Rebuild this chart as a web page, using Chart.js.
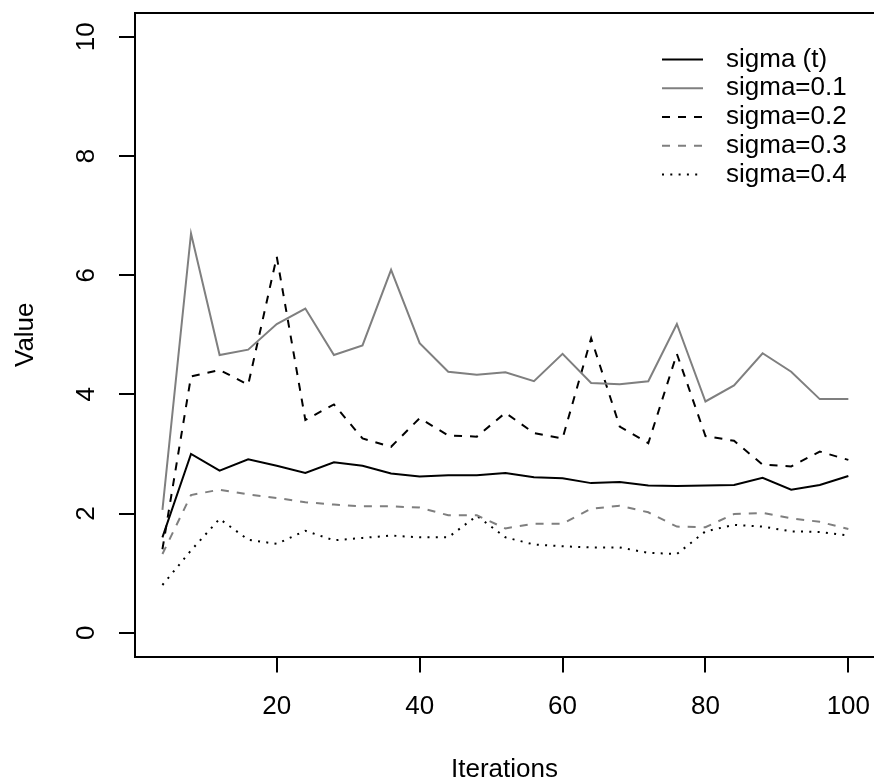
<!DOCTYPE html>
<html>
<head>
<meta charset="utf-8">
<script src="https://cdn.jsdelivr.net/npm/chart.js@4.4.1/dist/chart.umd.min.js"></script>
<style>
  html, body { margin: 0; padding: 0; background: #fff; overflow: hidden; }
  canvas { display: block; }
</style>
</head>
<body>
<canvas id="chart" width="874" height="783"></canvas>
<script>
// ── Данные ──────────────────────────────────────────────
const iterations = [4, 8, 12, 16, 20, 24, 28, 32, 36, 40, 44, 48, 52,
                    56, 60, 64, 68, 72, 76, 80, 84, 88, 92, 96, 100];

const sigmaT  = [1.60, 3.00, 2.72, 2.91, 2.80, 2.68, 2.86, 2.80, 2.67, 2.62, 2.64, 2.64, 2.68,
                 2.61, 2.59, 2.51, 2.53, 2.47, 2.46, 2.47, 2.48, 2.60, 2.40, 2.48, 2.63];
const sigma01 = [2.06, 6.70, 4.66, 4.75, 5.18, 5.44, 4.66, 4.82, 6.09, 4.86, 4.38, 4.33, 4.37,
                 4.22, 4.68, 4.19, 4.17, 4.22, 5.18, 3.88, 4.15, 4.69, 4.38, 3.92, 3.92];
const sigma02 = [1.40, 4.30, 4.41, 4.16, 6.31, 3.57, 3.83, 3.26, 3.12, 3.60, 3.31, 3.29, 3.69,
                 3.35, 3.26, 4.94, 3.46, 3.18, 4.68, 3.30, 3.22, 2.82, 2.79, 3.04, 2.90];
const sigma03 = [1.32, 2.31, 2.40, 2.32, 2.26, 2.19, 2.15, 2.12, 2.12, 2.10, 1.97, 1.97, 1.75,
                 1.83, 1.83, 2.08, 2.13, 2.02, 1.78, 1.77, 1.99, 2.01, 1.92, 1.86, 1.74];
const sigma04 = [0.80, 1.38, 1.91, 1.56, 1.49, 1.71, 1.55, 1.59, 1.63, 1.60, 1.60, 1.96, 1.60,
                 1.48, 1.45, 1.43, 1.43, 1.34, 1.32, 1.70, 1.81, 1.78, 1.70, 1.69, 1.63];

const seriesLabels = ['sigma (t)', 'sigma=0.1', 'sigma=0.2', 'sigma=0.3', 'sigma=0.4'];
const xTicks = [20, 40, 60, 80, 100];
const yTicks = [0, 2, 4, 6, 8, 10];
const xTitle = 'Iterations';
const yTitle = 'Value';

// ── Стиль ───────────────────────────────────────────────
const FONT  = "'Liberation Sans', Arial, Helvetica, sans-serif";
const FSIZE = 26;
const GREY  = '#7f7f7f';
const LW    = 2;

function series(label, values, color, dash) {
  return {
    label,
    data: iterations.map((x, i) => ({ x, y: values[i] })),
    borderColor: color,
    borderWidth: LW,
    borderDash: dash,
    borderCapStyle: 'butt',
    pointRadius: 0,
    tension: 0,
    fill: false,
  };
}

// Рамка сверху, подписи оси Y (повернуты, как в R) и легенда
const rDecor = {
  id: 'rDecor',
  afterDraw(chart) {
    const { ctx, chartArea: { left, top, right, bottom } } = chart;
    const ys = chart.scales.y;
    ctx.save();
    ctx.strokeStyle = '#000';
    ctx.lineWidth = LW;
    ctx.beginPath();
    ctx.moveTo(left, bottom);
    ctx.lineTo(left, top);
    ctx.lineTo(right + 4, top);
    ctx.stroke();

    // подписи Y
    ctx.fillStyle = '#000';
    ctx.font = `${FSIZE}px ${FONT}`;
    ctx.textAlign = 'center';
    ctx.textBaseline = 'middle';
    ys.ticks.forEach(t => {
      const py = ys.getPixelForValue(t.value);
      ctx.save();
      ctx.translate(86.5, py);
      ctx.rotate(-Math.PI / 2);
      ctx.fillText(String(t.value), 0, 0);
      ctx.restore();
    });

    // легенда
    const lx0 = 662, lx1 = 703, tx = 726, y0 = 59.5, dy = 28.75;
    ctx.textAlign = 'left';
    chart.data.datasets.forEach((ds, i) => {
      const yy = y0 + i * dy;
      ctx.strokeStyle = ds.borderColor;
      ctx.lineWidth = LW;
      ctx.setLineDash(ds.borderDash || []);
      ctx.beginPath();
      ctx.moveTo(lx0, yy);
      ctx.lineTo(lx1, yy);
      ctx.stroke();
      ctx.setLineDash([]);
      ctx.fillStyle = '#000';
      ctx.fillText(ds.label, tx, yy);
    });
    ctx.restore();
  },
};

new Chart(document.getElementById('chart'), {
  type: 'line',
  data: {
    datasets: [
      series(seriesLabels[0], sigmaT,  '#000', []),
      series(seriesLabels[1], sigma01, GREY,   []),
      series(seriesLabels[2], sigma02, '#000', [8, 8]),
      series(seriesLabels[3], sigma03, GREY,   [8, 8]),
      series(seriesLabels[4], sigma04, '#000', [2, 6.3]),
    ],
  },
  options: {
    responsive: false,
    devicePixelRatio: 1,
    animation: false,
    layout: { padding: { top: 13, left: 0, right: 0, bottom: 0 } },
    plugins: {
      legend:  { display: false },
      tooltip: { enabled: false },
    },
    scales: {
      x: {
        type: 'linear',
        min: 0.16,
        max: 103.59,
        afterBuildTicks: s => { s.ticks = xTicks.map(v => ({ value: v })); },
        // фиксированная высота оси и без авто-отступов под подписи
        afterFit: s => { s.height = 126.5; s.paddingLeft = 0; s.paddingRight = 0; },
        grid:   { drawOnChartArea: false, tickLength: 16, color: '#000', lineWidth: LW },
        border: { display: true, color: '#000', width: LW },
        ticks:  {
          color: '#000', padding: 19, autoSkip: false, maxRotation: 0,
          font: { family: FONT, size: FSIZE, lineHeight: 1.2 },
        },
        title: {
          display: true, text: xTitle, color: '#000',
          font: { family: FONT, size: FSIZE, lineHeight: 1 },
          padding: { top: 0, bottom: 0 },
        },
      },
      y: {
        type: 'linear',
        min: -0.4,
        max: 10.4,
        afterBuildTicks: s => { s.ticks = yTicks.map(v => ({ value: v })); },
        afterFit: s => { s.width = 135; s.paddingTop = 0; s.paddingBottom = 0; },
        grid:   { drawOnChartArea: false, tickLength: 16, color: '#000', lineWidth: LW },
        border: { display: true, color: '#000', width: LW },
        ticks:  { display: false },
        title: {
          display: true, text: yTitle, color: '#000',
          font: { family: FONT, size: FSIZE, lineHeight: 1 },
          padding: { top: 12.5, bottom: 0 },
        },
      },
    },
  },
  plugins: [rDecor],
});
</script>
</body>
</html>
